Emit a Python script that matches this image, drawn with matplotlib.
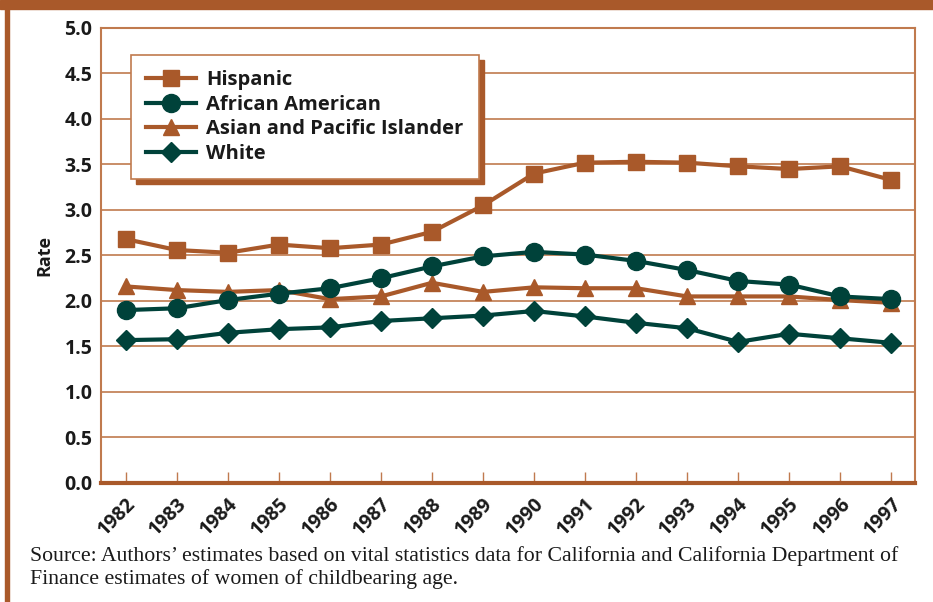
import matplotlib
matplotlib.use('Agg')
import matplotlib.pyplot as plt
from matplotlib.patches import Rectangle

plt.rcParams['font.family'] = ['Open Sans', 'DejaVu Sans']

ORANGE = '#A9592A'
GREEN = '#00423A'
GRID = '#C07A4E'

years = list(range(1982, 1998))
hispanic = [2.68, 2.56, 2.53, 2.62, 2.58, 2.62, 2.76, 3.05, 3.40, 3.52, 3.53, 3.52, 3.48, 3.45, 3.48, 3.33]
african_american = [1.90, 1.92, 2.01, 2.08, 2.14, 2.25, 2.38, 2.49, 2.54, 2.51, 2.44, 2.34, 2.22, 2.18, 2.05, 2.02]
asian_pacific = [2.16, 2.12, 2.10, 2.12, 2.02, 2.05, 2.20, 2.10, 2.15, 2.14, 2.14, 2.05, 2.05, 2.05, 2.01, 1.98]
white = [1.57, 1.58, 1.65, 1.69, 1.71, 1.78, 1.81, 1.84, 1.89, 1.83, 1.76, 1.70, 1.55, 1.64, 1.59, 1.54]
y_ticks = [0.0, 0.5, 1.0, 1.5, 2.0, 2.5, 3.0, 3.5, 4.0, 4.5, 5.0]

fig = plt.figure(figsize=(9.33, 6.02), dpi=100)
ax = fig.add_axes([0.108, 0.1977, 0.873, 0.7558])

# page frame: thick bar on top, thin rule at left
fig.patches.append(Rectangle((0, 0.985), 1, 0.015, transform=fig.transFigure,
                             color=ORANGE, zorder=0))
fig.patches.append(Rectangle((0.0055, 0), 0.0045, 1, transform=fig.transFigure,
                             color=ORANGE, zorder=0))

ax.plot(years, hispanic, color=ORANGE, lw=3, marker='s', ms=11, label='Hispanic', zorder=4)
ax.plot(years, african_american, color=GREEN, lw=3, marker='o', ms=13, label='African American', zorder=5)
ax.plot(years, asian_pacific, color=ORANGE, lw=3, marker='^', ms=11, label='Asian and Pacific Islander', zorder=4)
ax.plot(years, white, color=GREEN, lw=3, marker='D', ms=10, label='White', zorder=5)

ax.set_xlim(1981.51, 1997.47)
ax.set_ylim(0, 5)
ax.set_yticks(y_ticks)
ax.set_yticklabels([f'{v:.1f}' for v in y_ticks], fontsize=14, fontweight='bold', color='#1a1a1a')
ax.set_xticks(years)
ax.set_xticklabels([str(y) for y in years], rotation=45, ha='right', rotation_mode='anchor',
                   fontsize=14, fontweight='bold', color='#1a1a1a')
ax.tick_params(axis='x', direction='in', length=8, color=GRID, width=1, pad=8)
ax.tick_params(axis='y', length=0, pad=6)
ax.set_ylabel('Rate', fontsize=13, fontweight='bold', color='#1a1a1a', labelpad=8)

ax.grid(axis='y', color=GRID, lw=1.2)
ax.set_axisbelow(True)
for side in ['left', 'right', 'top']:
    ax.spines[side].set_color(GRID)
    ax.spines[side].set_linewidth(1.5)
ax.spines['bottom'].set_color(ORANGE)
ax.spines['bottom'].set_linewidth(3)

leg = ax.legend(loc='upper left', bbox_to_anchor=(0.037, 0.94),
                prop={'weight': 'bold', 'size': 14.5}, fancybox=False, framealpha=1,
                edgecolor=GRID, borderpad=0.75, labelspacing=0.22, handlelength=2.5,
                handletextpad=0.5, borderaxespad=0)
leg.get_frame().set_linewidth(1.2)
leg.set_zorder(10)
for t in leg.get_texts():
    t.set_color('#1a1a1a')

# drop shadow behind the legend box
fig.canvas.draw()
bb = leg.get_window_extent().transformed(fig.transFigure.inverted())
dx, dy = 5 / 933, 5 / 602
shadow = Rectangle((bb.x0 + dx, bb.y0 - dy), bb.width, bb.height,
                   transform=fig.transFigure, color=ORANGE, zorder=9)
ax.add_artist(shadow)

fig.text(0.032, 0.068, 'Source: Authors\u2019 estimates based on vital statistics data for California and California Department of',
         fontsize=15.7, family='Liberation Serif', color='#1a1a1a')
fig.text(0.032, 0.030, 'Finance estimates of women of childbearing age.',
         fontsize=15.7, family='Liberation Serif', color='#1a1a1a')

fig.savefig('out.png', dpi=100)
